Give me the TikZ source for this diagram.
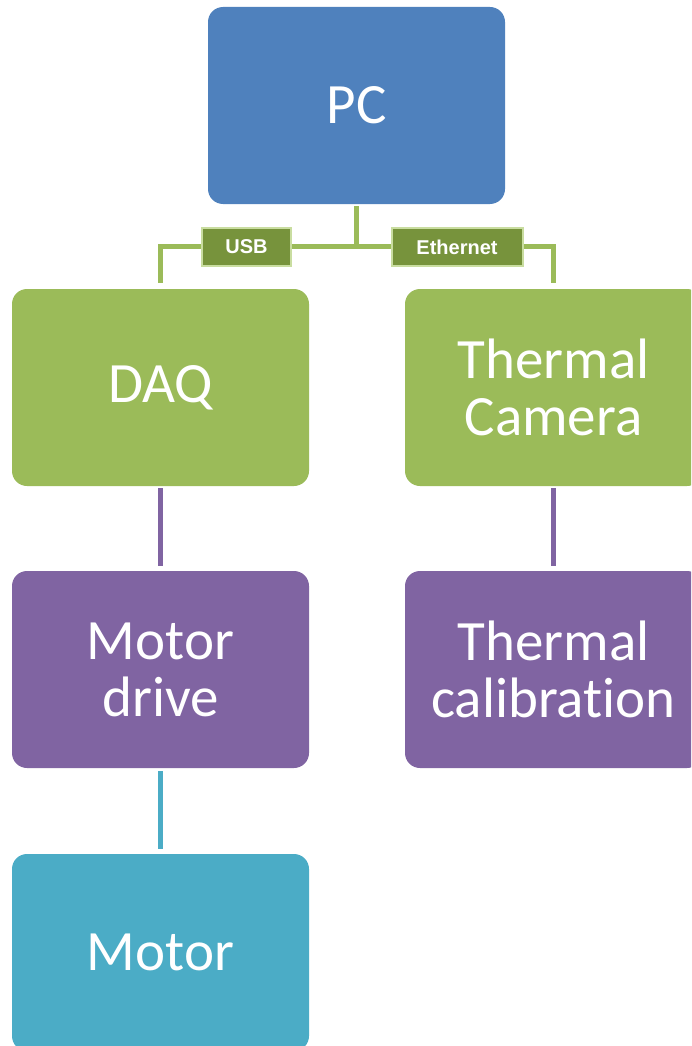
\documentclass[tikz,border=0pt]{standalone}
\usepackage{fontspec}
\setmainfont{Carlito}[Ligatures={NoCommon,NoRare}]
\newfontfamily\labelfont{Liberation Sans}
\definecolor{pcblue}{HTML}{4F81BD}
\definecolor{lgreen}{HTML}{9BBB59}
\definecolor{dgreen}{HTML}{77933C}
\definecolor{pgreen}{HTML}{C9DDA0}
\definecolor{mpurple}{HTML}{8064A2}
\definecolor{mcyan}{HTML}{4BACC6}
\tikzset{
  boxnode/.style={rectangle, rounded corners=15pt, minimum width=297pt, minimum height=197pt,
    inner sep=0pt, text=white, align=center, font=\fontsize{57}{57}\selectfont},
  tagnode/.style={rectangle, fill=dgreen, draw=pgreen, line width=2pt, text=white,
    inner sep=0pt, font=\labelfont\bfseries\fontsize{20}{20}\selectfont},
  link/.style={line width=5pt},
}
\begin{document}
\begin{tikzpicture}[x=1pt,y=-1pt]
\clip (0,0) rectangle (691,1046);
\node[boxnode, fill=pcblue] (pc) at (356.5,105.5) {PC};
\node[boxnode, fill=lgreen] (daq) at (160.5,387.5) {DAQ};
\node[boxnode, fill=lgreen] (cam) at (553.5,387.5) {Thermal\\Camera};
\node[boxnode, fill=mpurple] (drive) at (160.5,669.5) {Motor\\drive};
\node[boxnode, fill=mpurple] (cal) at (553.5,669.5) {Thermal\\calibration};
\node[boxnode, fill=mcyan] (motor) at (160.5,952.5) {Motor};
\coordinate (hub) at (356.5,246);
\draw[link, lgreen, shorten <=2pt] (pc.south) -- (hub);
\draw[link, lgreen, shorten >=6pt] (hub) -| (daq.north);
\draw[link, lgreen, shorten >=6pt] (hub) -| (cam.north);
\node[tagnode, minimum width=89pt, minimum height=38pt] (usb) at (246.5,247) {USB};
\node[tagnode, minimum width=131pt, minimum height=38pt] (eth) at (457,247) {Ethernet};
\draw[link, mpurple, shorten <=2pt, shorten >=5pt] (daq.south) -- (drive.north);
\draw[link, mpurple, shorten <=2pt, shorten >=5pt] (cam.south) -- (cal.north);
\draw[link, mcyan, shorten <=3pt, shorten >=5pt] (drive.south) -- (motor.north);
\end{tikzpicture}
\end{document}
